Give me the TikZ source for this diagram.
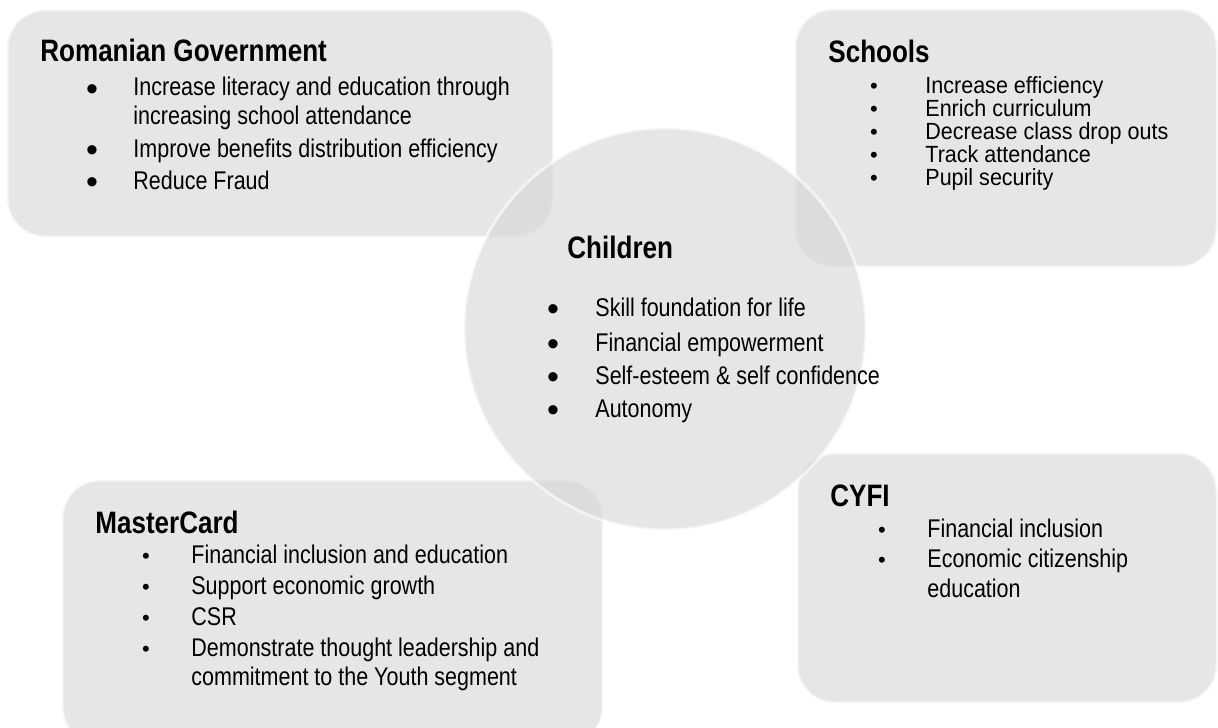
\documentclass[tikz,border=0pt]{standalone}
\usepackage{fontspec}
\setmainfont[FakeStretch=0.84]{Liberation Sans}
\newfontfamily\dotfont{Liberation Sans}
\newfontfamily\tightfont[FakeStretch=0.92]{Liberation Sans}
\usepackage{tikz}
\usetikzlibrary{positioning}

\tikzstyle{panel} = [rounded corners=19pt, fill=black!16.5, fill opacity=0.6, draw=white, draw opacity=0.6, line width=1.5pt]
\tikzstyle{heading} = [anchor=base west, inner sep=0pt, font=\fontsize{15.5}{17}\selectfont\bfseries]
\tikzstyle{item} = [anchor=base west, inner sep=0pt, font=\fontsize{12.8}{15}\selectfont]
\tikzstyle{tightitem} = [anchor=base west, inner sep=0pt, font=\tightfont\fontsize{11.7}{13}\selectfont]
\tikzstyle{dot} = [anchor=base, inner sep=0pt, font=\dotfont\fontsize{11}{13}\selectfont]
\tikzstyle{bigdot} = [anchor=base, inner sep=0pt, yshift=-2.2pt, font=\dotfont\fontsize{17}{17}\selectfont]

\begin{document}
\begin{tikzpicture}[x=0.5pt, y=-0.5pt]
	\useasboundingbox (0,0) rectangle (1218,727);
	\clip (0,0) rectangle (1218,727);

	% background shapes
	\draw [panel] (7,10) rectangle (553,237);
	\draw [panel] (795,9) rectangle (1217,267);
	\draw [panel] (62,480) rectangle (603,745);
	\draw [panel] (797,453) rectangle (1217,703);
	\draw [panel] (665,329) circle (201);

	% Romanian Government
	\node (gov) [heading] at (40,62) {Romanian Government};
	\node (gov1b) [bigdot] at (92,96) {•};
	\node (gov1) [item] at (133,96) {Increase literacy and education through};
	\node (gov1c) [item] at (133,125) {increasing school attendance};
	\node (gov2b) [bigdot] at (92,157.5) {•};
	\node (gov2) [item] at (133,157.5) {Improve benefits distribution efficiency};
	\node (gov3b) [bigdot] at (92,189.5) {•};
	\node (gov3) [item] at (133,189.5) {Reduce Fraud};

	% Schools
	\node (sch) [heading] at (828,63) {Schools};
	\node (sch1b) [dot] at (874,93.5) {•};
	\node (sch1) [tightitem] at (925,93.5) {Increase efficiency};
	\node (sch2b) [dot] at (874,116.5) {•};
	\node (sch2) [tightitem] at (925,116.5) {Enrich curriculum};
	\node (sch3b) [dot] at (874,139.5) {•};
	\node (sch3) [tightitem] at (925,139.5) {Decrease class drop outs};
	\node (sch4b) [dot] at (874,162.5) {•};
	\node (sch4) [tightitem] at (925,162.5) {Track attendance};
	\node (sch5b) [dot] at (874,185.5) {•};
	\node (sch5) [tightitem] at (925,185.5) {Pupil security};

	% Children
	\node (kid) [heading] at (567,258) {Children};
	\node (kid1b) [bigdot] at (553,316.5) {•};
	\node (kid1) [item] at (595,316.5) {Skill foundation for life};
	\node (kid2b) [bigdot] at (553,351.5) {•};
	\node (kid2) [item] at (595,351.5) {Financial empowerment};
	\node (kid3b) [bigdot] at (553,384.5) {•};
	\node (kid3) [item] at (595,384.5) {Self-esteem \& self confidence};
	\node (kid4b) [bigdot] at (553,417.5) {•};
	\node (kid4) [item] at (595,417.5) {Autonomy};

	% MasterCard
	\node (mc) [heading] at (95,533) {MasterCard};
	\node (mc1b) [dot] at (146,563.5) {•};
	\node (mc1) [item] at (191,563.5) {Financial inclusion and education};
	\node (mc2b) [dot] at (146,594.5) {•};
	\node (mc2) [item] at (191,594.5) {Support economic growth};
	\node (mc3b) [dot] at (146,625.5) {•};
	\node (mc3) [item] at (191,625.5) {CSR};
	\node (mc4b) [dot] at (146,656.5) {•};
	\node (mc4) [item] at (191,656.5) {Demonstrate thought leadership and};
	\node (mc4c) [item] at (191,685.5) {commitment to the Youth segment};

	% CYFI
	\node (cyfi) [heading] at (830,506) {CYFI};
	\node (cyfi1b) [dot] at (882,537.5) {•};
	\node (cyfi1) [item] at (927,537.5) {Financial inclusion};
	\node (cyfi2b) [dot] at (882,567.5) {•};
	\node (cyfi2) [item] at (927,567.5) {Economic citizenship};
	\node (cyfi2c) [item] at (927,597.5) {education};

\end{tikzpicture}
\end{document}
